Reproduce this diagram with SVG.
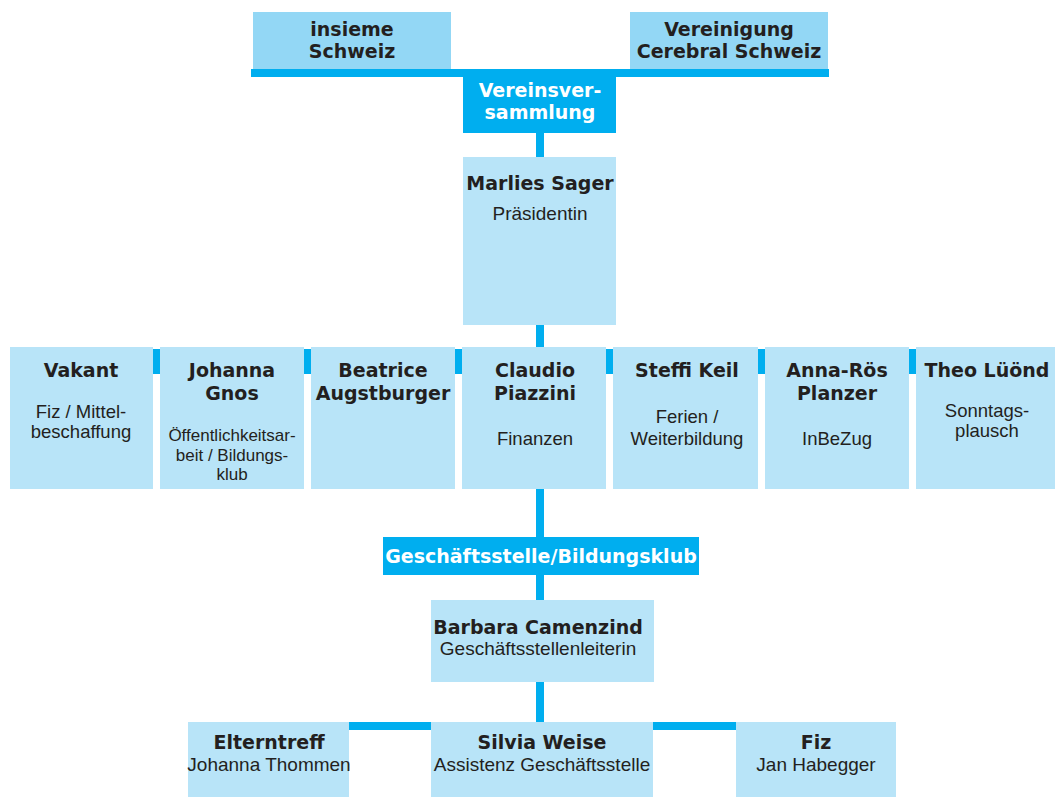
<svg xmlns="http://www.w3.org/2000/svg" width="1055" height="797" viewBox="0 0 1055 797">
<style>
.top{fill:#93D7F5}
.box{fill:#B8E4F8}
.dark{fill:#00AEEF}
.b{font-family:"DejaVu Sans","Liberation Sans",sans-serif;font-weight:bold;font-size:19px;fill:#231F20;text-anchor:middle}
.w{font-family:"DejaVu Sans","Liberation Sans",sans-serif;font-weight:bold;font-size:19px;fill:#FFFFFF;text-anchor:middle}
.r{font-family:"Liberation Sans","Noto Sans",sans-serif;font-size:19px;fill:#231F20;text-anchor:middle}
.rs{font-family:"Liberation Sans","Noto Sans",sans-serif;font-size:18.5px;fill:#231F20;text-anchor:middle}
.rt{font-family:"Liberation Sans","Noto Sans",sans-serif;font-size:17px;fill:#231F20;text-anchor:middle}
</style>
<rect width="1055" height="797" fill="#FFFFFF"/>
<g id="connectors">
<rect class="dark" x="251" y="69" width="578" height="8"/>
<rect class="dark" x="536" y="133" width="8" height="24"/>
<rect class="dark" x="536" y="325" width="8" height="22"/>
<rect class="dark" x="150" y="349" width="770" height="25"/>
<rect class="dark" x="536" y="489" width="8" height="48"/>
<rect class="dark" x="536" y="575" width="8" height="25"/>
<rect class="dark" x="536" y="682" width="8" height="40"/>
<rect class="dark" x="347" y="722" width="390" height="8"/>
</g>
<g id="insieme">
<rect class="top" x="253" y="12" width="198" height="57"/>
<text class="b" x="352" y="36">insieme</text>
<text class="b" x="352" y="58">Schweiz</text>
</g>
<g id="vereinigung">
<rect class="top" x="630" y="12" width="198" height="57"/>
<text class="b" x="729" y="36">Vereinigung</text>
<text class="b" x="729" y="58">Cerebral Schweiz</text>
</g>
<g id="vereinsversammlung">
<rect class="dark" x="463" y="77" width="153" height="56"/>
<text class="w" x="540" y="97">Vereinsver-</text>
<text class="w" x="540" y="119">sammlung</text>
</g>
<g id="praesidentin">
<rect class="box" x="463" y="157" width="153" height="168"/>
<text class="b" x="540" y="190">Marlies Sager</text>
<text class="r" x="540" y="220">Präsidentin</text>
</g>
<g id="vakant">
<rect class="box" x="10" y="347" width="143" height="142"/>
<text class="b" x="81" y="377">Vakant</text>
<text class="rs" x="81" y="418">Fiz / Mittel-</text>
<text class="rs" x="81" y="438">beschaffung</text>
</g>
<g id="gnos">
<rect class="box" x="160" y="347" width="144" height="142"/>
<text class="b" x="232" y="377">Johanna</text>
<text class="b" x="232" y="400">Gnos</text>
<text class="rt" x="232" y="441">Öffentlichkeitsar-</text>
<text class="rt" x="232" y="460.6">beit / Bildungs-</text>
<text class="rt" x="232" y="480.2">klub</text>
</g>
<g id="augstburger">
<rect class="box" x="311" y="347" width="144" height="142"/>
<text class="b" x="383" y="377">Beatrice</text>
<text class="b" x="383" y="400">Augstburger</text>
</g>
<g id="piazzini">
<rect class="box" x="462" y="347" width="144" height="142"/>
<text class="b" x="535" y="377">Claudio</text>
<text class="b" x="535" y="400">Piazzini</text>
<text class="rs" x="535" y="445">Finanzen</text>
</g>
<g id="keil">
<rect class="box" x="613" y="347" width="145" height="142"/>
<text class="b" x="687" y="377">Steffi Keil</text>
<text class="rs" x="687" y="423">Ferien /</text>
<text class="rs" x="687" y="445">Weiterbildung</text>
</g>
<g id="planzer">
<rect class="box" x="765" y="347" width="144" height="142"/>
<text class="b" x="837" y="377">Anna-Rös</text>
<text class="b" x="837" y="400">Planzer</text>
<text class="rs" x="837" y="445">InBeZug</text>
</g>
<g id="luond">
<rect class="box" x="916" y="347" width="139" height="142"/>
<text class="b" x="987" y="377">Theo Lüönd</text>
<text class="rs" x="987" y="417">Sonntags-</text>
<text class="rs" x="987" y="437">plausch</text>
</g>
<g id="geschaeftsstelle">
<rect class="dark" x="383" y="537" width="316" height="38"/>
<text class="w" x="541" y="563">Geschäftsstelle/Bildungsklub</text>
</g>
<g id="camenzind">
<rect class="box" x="431" y="600" width="223" height="82"/>
<text class="b" x="538" y="634">Barbara Camenzind</text>
<text class="r" x="538" y="655">Geschäftsstellenleiterin</text>
</g>
<g id="elterntreff">
<rect class="box" x="188" y="722" width="161" height="75"/>
<text class="b" x="269" y="749">Elterntreff</text>
<text class="r" x="269" y="771">Johanna Thommen</text>
</g>
<g id="weise">
<rect class="box" x="431" y="722" width="222" height="75"/>
<text class="b" x="542" y="749">Silvia Weise</text>
<text class="r" x="542" y="771">Assistenz Geschäftsstelle</text>
</g>
<g id="fiz">
<rect class="box" x="736" y="722" width="160" height="75"/>
<text class="b" x="816" y="749">Fiz</text>
<text class="r" x="816" y="771">Jan Habegger</text>
</g>
</svg>
